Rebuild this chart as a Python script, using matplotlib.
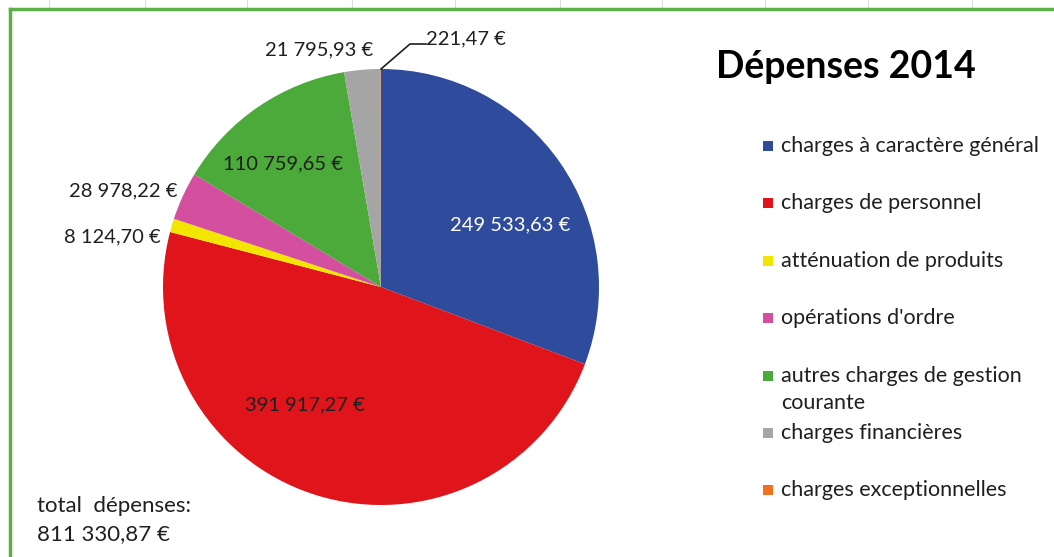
import matplotlib.pyplot as plt
from matplotlib.patches import Rectangle

# data (values in euros)
categories = ["charges à caractère général", "charges de personnel",
              "atténuation de produits", "opérations d'ordre",
              "autres charges de gestion\ncourante", "charges financières",
              "charges exceptionnelles"]
values = [249533.63, 391917.27, 8124.70, 28978.22, 110759.65, 21795.93, 221.47]
value_labels = ["249 533,63 €", "391 917,27 €", "8 124,70 €", "28 978,22 €",
                "110 759,65 €", "21 795,93 €", "221,47 €"]
colors = ["#2F4B9B", "#E0141B", "#F2E600", "#D44FA0", "#4BAA3A", "#A5A5A5", "#F07020"]
total_label = "811 330,87 €"

W, H = 1054, 557
plt.rcParams['font.family'] = ['Lato', 'DejaVu Sans']
TXT = "#1f1f1f"

fig = plt.figure(figsize=(W / 100, H / 100), dpi=100)
ax = fig.add_axes([0, 0, 1, 1])

# pie: center (381, 287), radius 218 px; y axis flipped so counterclock=True draws clockwise on screen
cx, cy, r = 381, 287, 218
wedges, _ = ax.pie(values, colors=colors, startangle=-90, counterclock=True,
                   center=(cx, cy), radius=r, frame=True,
                   wedgeprops=dict(linewidth=0))
ax.set_xlim(0, W)
ax.set_ylim(H, 0)
ax.axis("off")

# screenshot frame: faint sheet grid above, green chart border
for gx in [49, 145, 247, 352, 455, 560, 662, 765, 868, 972]:
    ax.plot([gx, gx], [0, 9], color="#dcdcdc", lw=0.8)
ax.plot([10, W], [9, 9], color="#5BB04A", lw=2.5)
ax.plot([10, 10], [9, H], color="#5BB04A", lw=2.5)

label_pos = [(510, 225), (305, 405), (112, 237), (123, 191),
             (283, 164), (319, 50), (466, 39)]
label_col = ["white", TXT, TXT, TXT, TXT, TXT, TXT]
for (lx, ly), txt, c in zip(label_pos, value_labels, label_col):
    ax.text(lx, ly, txt, ha="center", va="center", fontsize=14.5, color=c)

# leader line for the tiny slice
ax.plot([cx, 410, 426], [cy - r, 44, 44], color=TXT, lw=1.2)

# title
ax.text(846, 67, "Dépenses 2014", ha="center", va="center",
        fontsize=27, fontweight="bold", color="black")

# legend
leg_y = [146, 203, 261, 318, 376, 433, 490]
for y, lab, c in zip(leg_y, categories, colors):
    ax.add_patch(Rectangle((763, y - 5), 10, 10, color=c, lw=0))
    for i, line in enumerate(lab.split("\n")):
        ax.text(781, y + 27 * i, line, ha="left", va="center", fontsize=15.5, color=TXT)

# total
ax.text(37, 506, "total  dépenses:", ha="left", va="center", fontsize=16, color=TXT)
ax.text(37, 534, total_label, ha="left", va="center", fontsize=16, color=TXT)

fig.savefig("out.png", dpi=100)
